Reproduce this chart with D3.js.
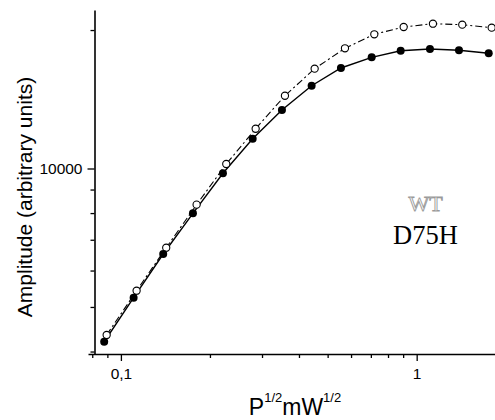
<!DOCTYPE html>
<html>
<head>
<meta charset="utf-8">
<script src="https://cdn.jsdelivr.net/npm/d3@7"></script>
<style>
html,body{margin:0;padding:0;background:#fff;}
svg{display:block;}
</style>
</head>
<body>
<svg id="chart" width="495" height="420"></svg>
<script>
// ---- data ----
const d75hX = [0.0878, 0.1104, 0.1390, 0.1752, 0.2213, 0.2789, 0.3503, 0.4414, 0.5546, 0.7045, 0.8829, 1.109, 1.390, 1.752];
const d75hY = [4201, 5237, 6518, 7991, 9763, 11610, 13402, 15136, 16539, 17448, 18035, 18190, 18072, 17800];
const wtX = [0.0895, 0.1130, 0.1423, 0.1803, 0.2271, 0.2855, 0.3586, 0.4519, 0.5722, 0.7190, 0.9037, 1.135, 1.426, 1.793];
const wtY = [4346, 5424, 6727, 8344, 10228, 12203, 14395, 16482, 18252, 19578, 20306, 20645, 20543, 20237];
const xMajorTicks = [0.1, 1];
const xMajorLabels = ["0,1", "1"];
const xMinorTicks = [0.08, 0.09, 0.2, 0.3, 0.4, 0.5, 0.6, 0.7, 0.8, 0.9];
const yMajorTicks = [10000];
const yMajorLabels = ["10000"];
const yMinorTicks = [4000, 5000, 6000, 7000, 8000, 9000, 20000];
const xDomain = [0.0774, 1.84];
const yDomain = [3951, 22110];

const svg = d3.select("#chart");
const x = d3.scaleLog().domain(xDomain).range([88, 495]);
const y = d3.scaleLog().domain(yDomain).range([354, 10]);
const axisX0 = 94.5; // position of y axis

// ---- axes ----
const gx = svg.append("g").attr("transform", "translate(0,354)");
gx.call(d3.axisBottom(x).tickValues(xMinorTicks).tickSize(4).tickSizeOuter(0).tickFormat(""));
const gxMaj = svg.append("g").attr("transform", "translate(0,354)");
gxMaj.call(d3.axisBottom(x).tickValues(xMajorTicks).tickSize(7).tickSizeOuter(0)
  .tickFormat((d, i) => xMajorLabels[i]));
gxMaj.select(".domain").remove();
gxMaj.selectAll("text").attr("y", 14).attr("dy", "0.71em")
  .style("font-family", "'Liberation Sans', Arial, sans-serif").style("font-size", "15.5px").attr("fill", "#000");

const gy = svg.append("g").attr("transform", `translate(${axisX0},0)`);
gy.call(d3.axisLeft(y).tickValues(yMinorTicks).tickSize(4).tickSizeOuter(0).tickFormat(""));
const gyMaj = svg.append("g").attr("transform", `translate(${axisX0},0)`);
gyMaj.call(d3.axisLeft(y).tickValues(yMajorTicks).tickSize(7).tickSizeOuter(0)
  .tickFormat((d, i) => yMajorLabels[i]));
gyMaj.select(".domain").remove();
gyMaj.selectAll("text").attr("x", -12)
  .style("font-family", "'Liberation Sans', Arial, sans-serif").style("font-size", "15.5px").attr("fill", "#000");

svg.selectAll(".domain").attr("stroke", "#000").attr("stroke-width", 1.6);
svg.selectAll(".tick line").attr("stroke", "#000").attr("stroke-width", 1.3);

// ---- lines ----
const wtData = wtX.map((v, i) => [v, wtY[i]]);
const mutData = d75hX.map((v, i) => [v, d75hY[i]]);
const line = d3.line().x(d => x(d[0])).y(d => y(d[1]));

svg.append("path").datum(wtData).attr("d", line)
  .attr("fill", "none").attr("stroke", "#000").attr("stroke-width", 1.1)
  .attr("stroke-dasharray", "7,3,2,3");
svg.append("path").datum(mutData).attr("d", line)
  .attr("fill", "none").attr("stroke", "#000").attr("stroke-width", 1.4);

svg.selectAll("circle.wt").data(wtData).enter().append("circle")
  .attr("class", "wt").attr("cx", d => x(d[0])).attr("cy", d => y(d[1])).attr("r", 3.6)
  .attr("fill", "#fff").attr("stroke", "#000").attr("stroke-width", 1.1);
svg.selectAll("circle.mut").data(mutData).enter().append("circle")
  .attr("class", "mut").attr("cx", d => x(d[0])).attr("cy", d => y(d[1])).attr("r", 4)
  .attr("fill", "#000");

// ---- labels ----
svg.append("text").attr("transform", "translate(32,197) rotate(-90)")
  .attr("text-anchor", "middle")
  .style("font-family", "'Liberation Sans', Arial, sans-serif").style("font-size", "21px")
  .text("Amplitude (arbitrary units)");

const xl = svg.append("text").attr("x", 295).attr("y", 415).attr("text-anchor", "middle")
  .style("font-family", "'Liberation Sans', Arial, sans-serif").style("font-size", "23px");
xl.append("tspan").text("P");
xl.append("tspan").attr("dy", -13).style("font-size", "13px").text("1/2");
xl.append("tspan").attr("dy", 13).text("mW");
xl.append("tspan").attr("dy", -13).style("font-size", "13px").text("1/2");

svg.append("text").attr("x", 425.5).attr("y", 211).attr("text-anchor", "middle")
  .style("font-family", "'Liberation Serif', 'Times New Roman', serif").style("font-size", "22px")
  .attr("fill", "#fff").attr("stroke", "#9a9a9a").attr("stroke-width", 0.9)
  .text("WT");
svg.append("text").attr("x", 425.5).attr("y", 244).attr("text-anchor", "middle")
  .style("font-family", "'Liberation Serif', 'Times New Roman', serif").style("font-size", "26.5px")
  .attr("fill", "#000")
  .text("D75H");
</script>
</body>
</html>
